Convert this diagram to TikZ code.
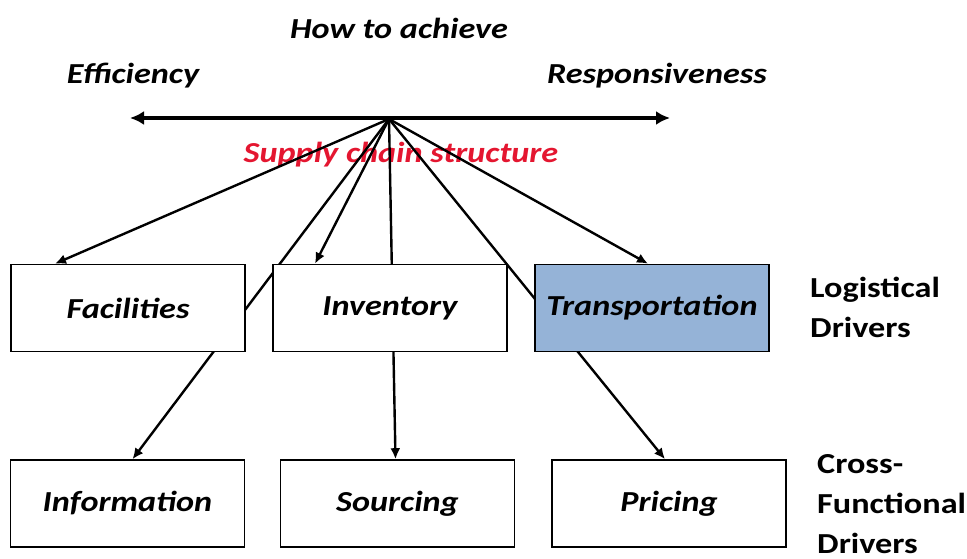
\documentclass[tikz,border=0pt]{standalone}
\usepackage{fontspec}
\setmainfont{Carlito}[FakeStretch=1.18]
\usepackage{tikz}
\usetikzlibrary{arrows.meta,positioning,calc,backgrounds}
\definecolor{trablue}{RGB}{149,179,215}
\definecolor{scred}{RGB}{228,22,48}
\tikzstyle{driver}=[draw, line width=1.6pt, fill=white, minimum width=234pt, minimum height=87pt, inner sep=0pt, font=\fontsize{29}{32}\selectfont\bfseries\itshape]
\tikzstyle{conn}=[line width=2.4pt, -{Latex[length=11pt,width=10pt]}]
\tikzstyle{title}=[inner sep=0pt, anchor=base, font=\fontsize{29}{32}\selectfont\bfseries\itshape]
\tikzstyle{side}=[inner sep=0pt, anchor=base west, align=left, font=\fontsize{29}{40}\selectfont\bfseries]

\begin{document}
\begin{tikzpicture}[x=1pt,y=-1pt]
\useasboundingbox (0,0) rectangle (967,559);

% logistical drivers
\node[driver] (fac) at (128,308) {Facilities};
\node[driver] (inv) at (390,308) {Inventory};
\node[driver, fill=trablue] (tra) at (652,308) {Transportation};

% cross-functional drivers
\node[driver] (info) at (127.5,503.5) {Information};
\node[driver] (sour) at (397.5,503.5) {Sourcing};
\node[driver] (pric) at (669,503.5) {Pricing};

% labels
\node[title] (how) at (399,39) {How to achieve};
\node[title] (eff) at (133,84) {Efficiency};
\node[title] (resp) at (657,84) {Responsiveness};
\node[side] (logi) at (810,337) {Logistical\\Drivers};
\node[side] (cross) at (817,553) {Cross-\\Functional\\Drivers};

% trade-off
\coordinate (hub) at (389,119);
\coordinate (left) at (130,118);
\coordinate (right) at (670,118);
\draw[line width=3.8pt, {Latex[length=14pt,width=14pt]}-{Latex[length=14pt,width=14pt]}] (left) -- (right);

\begin{scope}[on background layer]
\node[title, text=scred] (scs) at (401,163) {Supply chain structure};
\draw[conn] (hub) -- ([xshift=-73pt]fac.north);
\draw[conn] (hub) -- ([xshift=5pt]info.north);
\draw[conn] (hub) -- ([xshift=-75pt]inv.north);
\draw[conn] (hub) -- ([xshift=-2pt]sour.north);
\draw[conn] (hub) -- ([xshift=-4pt]pric.north);
\draw[conn] (hub) -- ([xshift=-4pt]tra.north);
\end{scope}

\end{tikzpicture}
\end{document}
